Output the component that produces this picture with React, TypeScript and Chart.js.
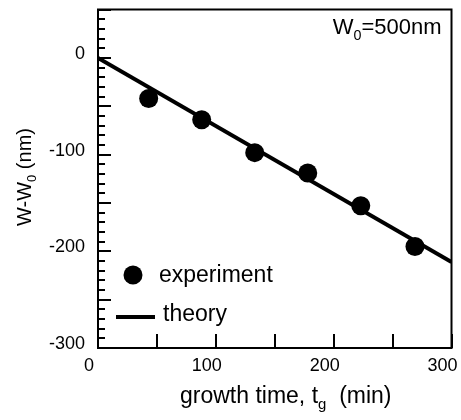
import React, { useEffect, useRef } from 'react';
import { Chart, registerables } from 'chart.js';
Chart.register(...registerables);

// ---- data ----
const expTime = [43, 88, 133, 178, 223, 269];
const expDelta = [-42, -64, -98, -119, -153, -195];
const theoryTime = [0, 300];
const theoryDelta = [0, -211];
const xTickValues = [0, 100, 200, 300];
const yTickValues = [0, -100, -200, -300];
const xMin = 0, xMax = 300, yMin = -300, yMax = 50;
const xMajorStep = 50, yMajorStep = 50, yMinorStep = 10;
const seriesNames = ['experiment', 'theory'];

const FONT = '"Liberation Sans", Arial, Helvetica, sans-serif';

type Seg = { t: string; sub?: boolean };

function richWidth(ctx: CanvasRenderingContext2D, segs: Seg[], size: number) {
  let w = 0;
  for (const s of segs) {
    ctx.font = `${s.sub ? size * 0.65 : size}px ${FONT}`;
    w += ctx.measureText(s.t).width;
  }
  return w;
}
function drawRich(ctx: CanvasRenderingContext2D, segs: Seg[], x: number, y: number, size: number) {
  let cx = x;
  ctx.textAlign = 'left';
  ctx.textBaseline = 'alphabetic';
  for (const s of segs) {
    ctx.font = `${s.sub ? size * 0.65 : size}px ${FONT}`;
    ctx.fillText(s.t, cx, s.sub ? y + size * 0.25 : y);
    cx += ctx.measureText(s.t).width;
  }
}

const zeroPad = (s: any) => {
  s.paddingLeft = 0;
  s.paddingRight = 0;
  s.paddingTop = 0;
  s.paddingBottom = 0;
};

const decorPlugin = {
  id: 'decor',
  afterDraw(chart: any) {
    const ctx: CanvasRenderingContext2D = chart.ctx;
    const a = chart.chartArea;
    const xs = chart.scales.x;
    const ys = chart.scales.y;
    ctx.save();
    ctx.strokeStyle = '#000';
    ctx.fillStyle = '#000';
    // frame
    ctx.lineWidth = 2;
    ctx.strokeRect(a.left, a.top, a.right - a.left, a.bottom - a.top);
    // y ticks (inward)
    for (let v = yMin; v <= yMax; v += yMinorStep) {
      const py = Math.round(ys.getPixelForValue(v));
      const len = v % yMajorStep === 0 ? 13 : 7;
      ctx.beginPath();
      ctx.moveTo(a.left, py);
      ctx.lineTo(a.left + len, py);
      ctx.stroke();
    }
    // x ticks (inward)
    for (let v = xMin; v <= xMax; v += xMajorStep) {
      const px = Math.round(xs.getPixelForValue(v));
      ctx.beginPath();
      ctx.moveTo(px, a.bottom);
      ctx.lineTo(px, a.bottom - 14);
      ctx.stroke();
    }
    // axis titles
    const xt: Seg[] = [{ t: 'growth time, t' }, { t: 'g', sub: true }, { t: '  (min)' }];
    drawRich(ctx, xt, 180, 403, 23);
    const yt: Seg[] = [{ t: 'W-W' }, { t: '0', sub: true }, { t: ' (nm)' }];
    ctx.save();
    ctx.translate(31, 177);
    ctx.rotate(-Math.PI / 2);
    const yw = richWidth(ctx, yt, 20);
    drawRich(ctx, yt, -yw / 2, 0, 20);
    ctx.restore();
    // annotation
    const an: Seg[] = [{ t: 'W' }, { t: '0', sub: true }, { t: '=500nm' }];
    const aw = richWidth(ctx, an, 22);
    drawRich(ctx, an, a.right - 10 - aw, 34, 22);
    // legend
    ctx.beginPath();
    ctx.arc(133, 275, 9.5, 0, Math.PI * 2);
    ctx.fill();
    ctx.font = `23px ${FONT}`;
    ctx.textAlign = 'left';
    ctx.textBaseline = 'middle';
    ctx.fillText(chart.data.datasets[0].label, 159, 276);
    ctx.lineWidth = 4;
    ctx.beginPath();
    ctx.moveTo(116, 317);
    ctx.lineTo(155, 317);
    ctx.stroke();
    ctx.fillText(chart.data.datasets[1].label, 163, 315);
    ctx.restore();
  },
};

export default function App() {
  const ref = useRef<HTMLCanvasElement>(null);
  useEffect(() => {
    if (!ref.current) return;
    const chart = new Chart(ref.current, {
      type: 'scatter',
      data: {
        datasets: [
          {
            label: seriesNames[0],
            data: expTime.map((t, i) => ({ x: t, y: expDelta[i] })),
            backgroundColor: '#000',
            borderWidth: 0,
            pointRadius: 9.5,
            showLine: false,
            order: 0,
          },
          {
            label: seriesNames[1],
            data: theoryTime.map((t, i) => ({ x: t, y: theoryDelta[i] })),
            borderColor: '#000',
            borderWidth: 4,
            pointRadius: 0,
            showLine: true,
            order: 1,
          },
        ],
      },
      options: {
        animation: false,
        responsive: true,
        maintainAspectRatio: false,
        layout: { padding: { top: 9, right: 9, left: 0, bottom: 0 } },
        plugins: { legend: { display: false }, tooltip: { enabled: false } },
        scales: {
          x: {
            type: 'linear',
            min: xMin,
            max: xMax,
            grid: { display: false, drawTicks: false },
            border: { display: false },
            afterBuildTicks: (s: any) => { s.ticks = xTickValues.map((v) => ({ value: v })); },
            afterFit: (s: any) => { s.height = 72; zeroPad(s); },
            ticks: {
              color: '#000',
              font: { family: FONT, size: 18 },
              padding: 7,
              labelOffset: -9,
              maxRotation: 0,
            },
          },
          y: {
            type: 'linear',
            min: yMin,
            max: yMax,
            grid: { display: false, drawTicks: false },
            border: { display: false },
            afterBuildTicks: (s: any) => { s.ticks = yTickValues.map((v) => ({ value: v })); },
            afterFit: (s: any) => { s.width = 98; zeroPad(s); },
            ticks: {
              color: '#000',
              font: { family: FONT, size: 18 },
              padding: 13,
              labelOffset: -4,
            },
          },
        },
      },
      plugins: [decorPlugin],
    });
    return () => chart.destroy();
  }, []);
  return (
    <div style={{ position: 'absolute', left: 0, top: 0, width: 461, height: 420, background: '#fff' }}>
      <canvas ref={ref} style={{ display: 'block' }} />
    </div>
  );
}
